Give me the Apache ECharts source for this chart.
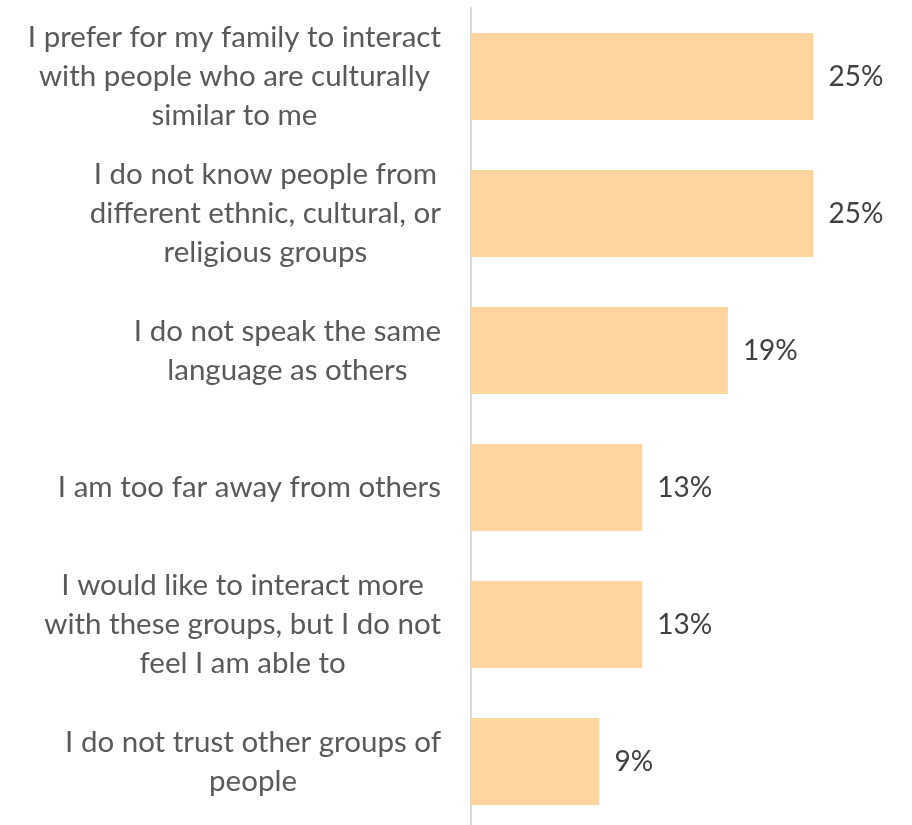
<!DOCTYPE html>
<html>
<head>
<meta charset="utf-8">
<script src="https://cdn.jsdelivr.net/npm/echarts@6/dist/echarts.min.js"></script>
<style>
  html, body { margin: 0; padding: 0; background: #fff; }
  #chart { width: 912px; height: 825px; }
</style>
</head>
<body>
<div id="chart"></div>
<script>
  // categories, top to bottom
  var categories = [
    'I prefer for my family to interact\nwith people who are culturally\nsimilar to me',
    'I do not know people from\ndifferent ethnic, cultural, or\nreligious groups',
    'I do not speak the same\nlanguage as others',
    'I am too far away from others',
    'I would like to interact more\nwith these groups, but I do not\nfeel I am able to',
    'I do not trust other groups of\npeople'
  ];
  // share of respondents (%)
  var values = [25, 25, 18.75, 12.5, 12.5, 9.375];

  var chart = echarts.init(document.getElementById('chart'));
  chart.setOption({
    animation: false,
    textStyle: { fontFamily: 'Lato' },
    grid: { left: 471, right: 30, top: 8, height: 822, outerBoundsMode: 'none', containLabel: false },
    xAxis: {
      type: 'value',
      min: 0,
      max: 30,
      show: false
    },
    yAxis: {
      type: 'category',
      data: categories,
      inverse: true,
      axisLine: { show: true, lineStyle: { color: '#d9d9d9', width: 2 } },
      axisTick: { show: false },
      axisLabel: {
        margin: 30,
        fontSize: 29.5,
        color: '#595959',
        lineHeight: 39,
        formatter: function (v) {
          return v.split('\n').map(function (l) { return '{c|' + l + '}'; }).join('\n');
        },
        rich: {
          c: { align: 'center', fontSize: 29.5, lineHeight: 39, color: '#595959', fontFamily: 'Lato' }
        }
      }
    },
    series: [{
      type: 'bar',
      data: values,
      barWidth: 87,
      itemStyle: { color: '#ffd49f' },
      label: {
        show: true,
        position: 'right',
        distance: 15,
        fontSize: 28,
        color: '#404040',
        fontFamily: 'Lato',
        formatter: function (p) { return Math.round(p.value) + '%'; }
      }
    }]
  });
</script>
</body>
</html>
